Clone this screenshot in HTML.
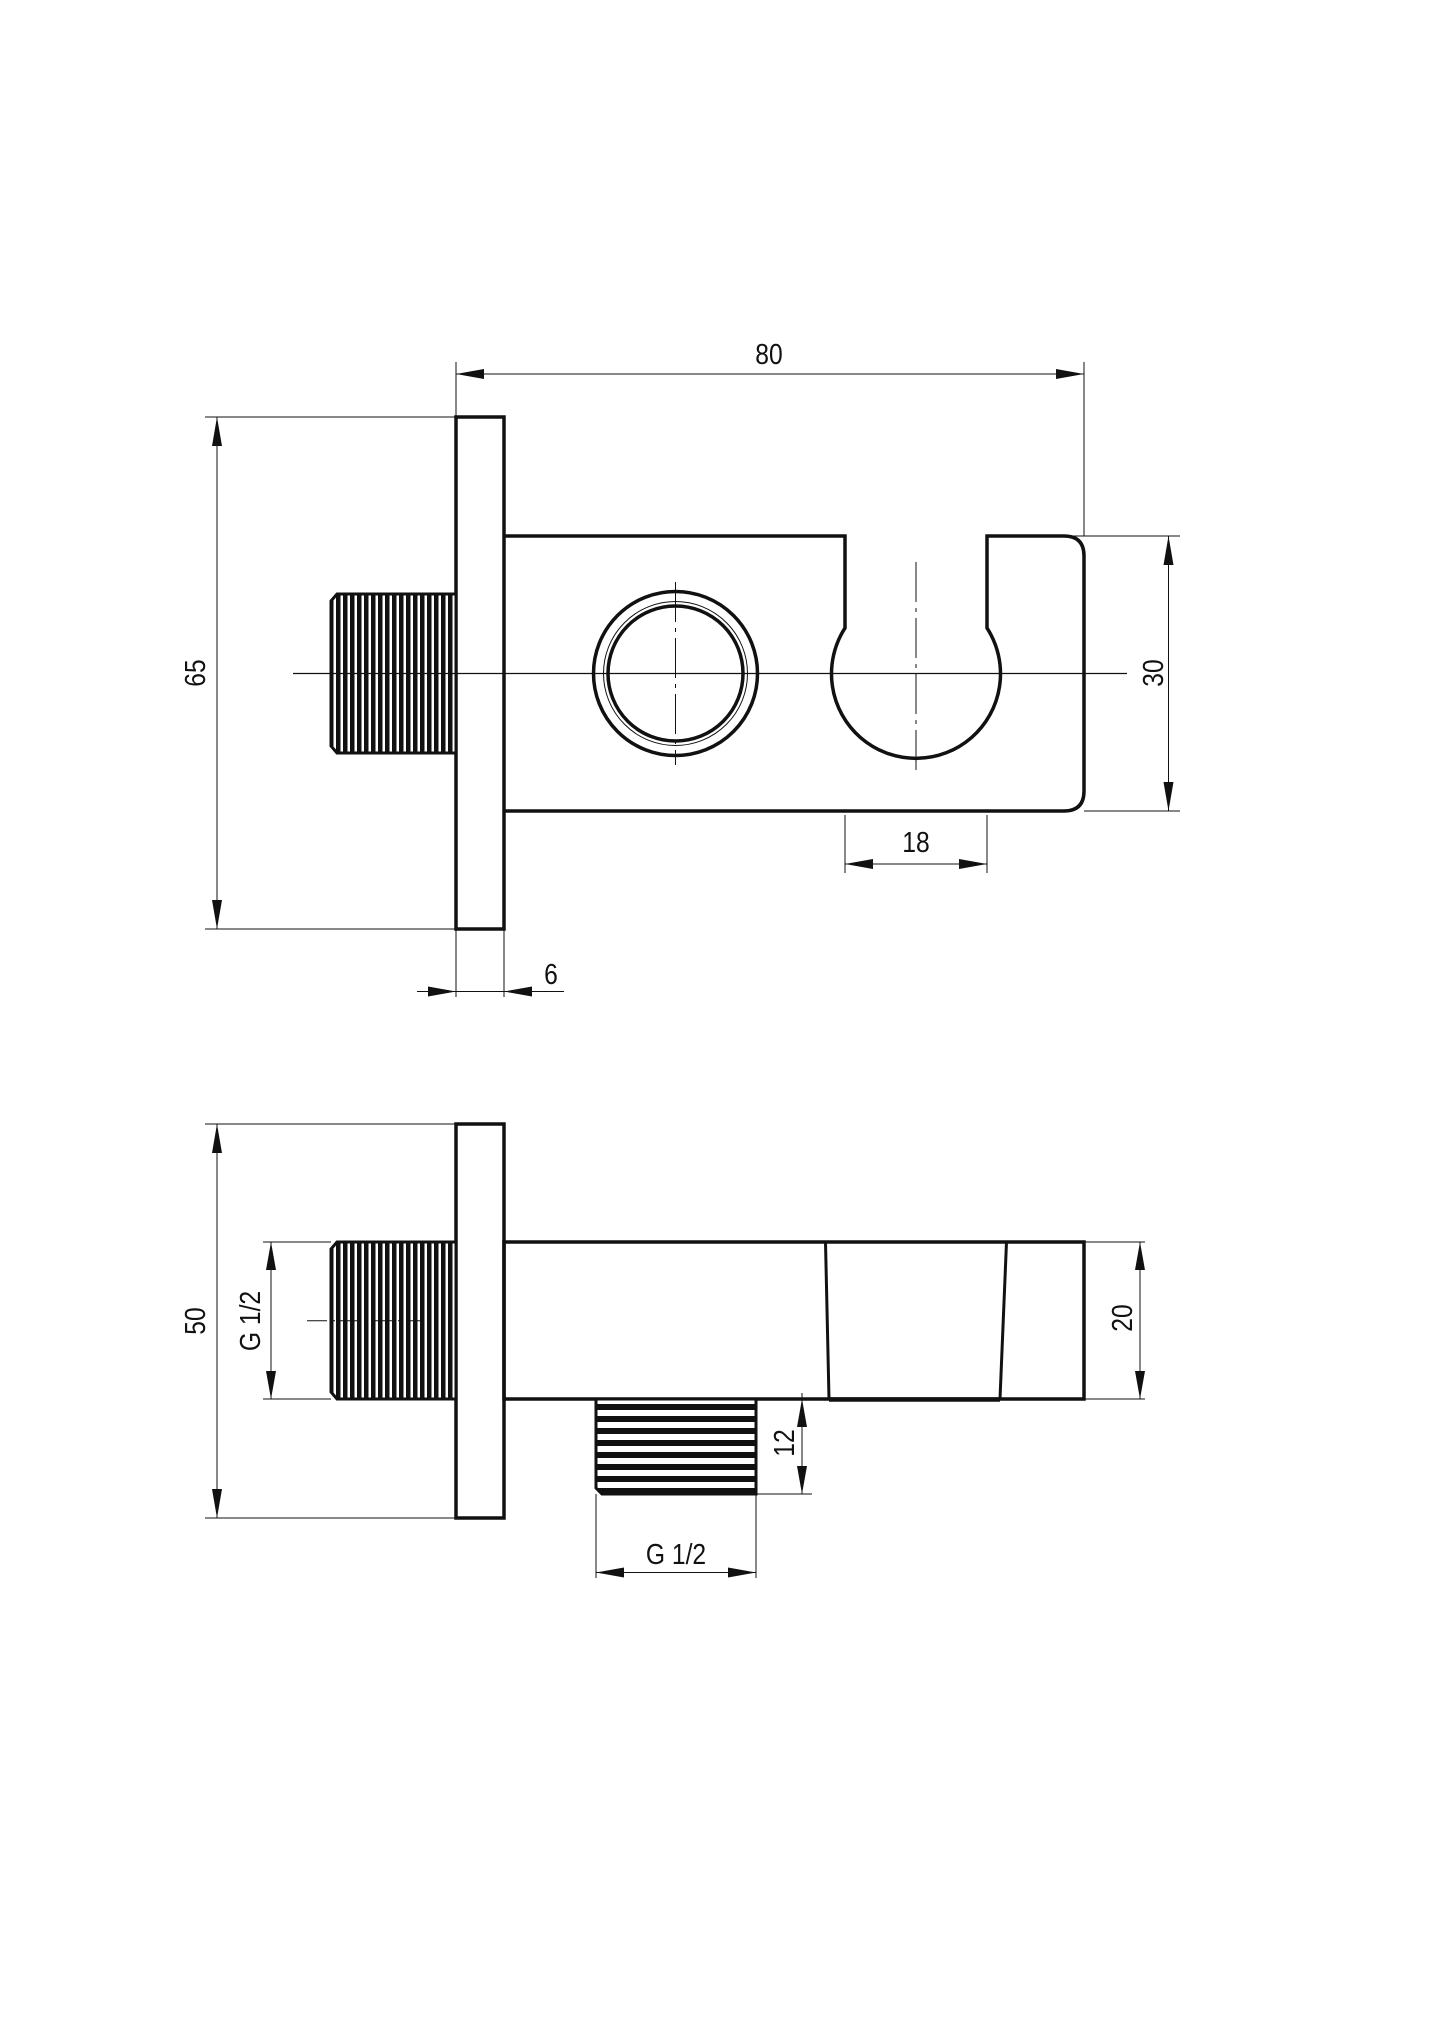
<!DOCTYPE html>
<html><head><meta charset="utf-8"><style>
html,body{margin:0;padding:0;background:#fff;}
svg{display:block;}
text{font-family:"Liberation Sans",sans-serif;font-size:29px;fill:#111;}
</style></head><body>
<svg width="1445" height="2043" viewBox="0 0 1445 2043" xmlns="http://www.w3.org/2000/svg">
<defs>
<pattern id="vt" width="7" height="10" patternUnits="userSpaceOnUse">
<rect width="7" height="10" fill="#fff"/><rect x="0" y="0" width="4.5" height="10" fill="#111"/>
</pattern>
<pattern id="ht" width="10" height="12" patternUnits="userSpaceOnUse">
<rect width="10" height="12" fill="#fff"/><rect x="0" y="0" width="10" height="6" fill="#111"/>
</pattern>
</defs>
<g stroke="#111" fill="none">
<rect x="456" y="417" width="48" height="512" stroke-width="3.5"/>
<path d="M504 536 L845 536 L845 628 A84.5 84.5 0 1 0 987 628 L987 536 L1064 536 Q1084 536 1084 556 L1084 791 Q1084 811 1064 811 L504 811" stroke-width="3.5"/>
<circle cx="675.5" cy="673.5" r="82" stroke-width="3.5"/>
<circle cx="675.5" cy="673.5" r="72" stroke-width="1"/>
<circle cx="675.5" cy="673.5" r="67.5" stroke-width="3.5"/>
<path d="M337 594 L456 594 L456 753 L337 753 L331 746 L331 601 Z" fill="url(#vt)" stroke-width="3"/>
<line x1="293" y1="673.5" x2="1127" y2="673.5" stroke-width="1.2"/>
<line x1="675.5" y1="582" x2="675.5" y2="765" stroke-width="1" stroke-dasharray="40 6 4 6"/>
<line x1="916" y1="562" x2="916" y2="775" stroke-width="1" stroke-dasharray="40 6 4 6"/>
<line x1="456" y1="362" x2="456" y2="417" stroke-width="1"/>
<line x1="1084" y1="362" x2="1084" y2="536" stroke-width="1"/>
<line x1="456" y1="374" x2="1084" y2="374" stroke-width="1"/>
<line x1="205" y1="417" x2="456" y2="417" stroke-width="1"/>
<line x1="205" y1="929" x2="456" y2="929" stroke-width="1"/>
<line x1="217" y1="417" x2="217" y2="929" stroke-width="1"/>
<line x1="1064" y1="536" x2="1180" y2="536" stroke-width="1"/>
<line x1="1084" y1="811" x2="1180" y2="811" stroke-width="1"/>
<line x1="1168.5" y1="536" x2="1168.5" y2="811" stroke-width="1"/>
<line x1="845" y1="815" x2="845" y2="873" stroke-width="1"/>
<line x1="987" y1="815" x2="987" y2="873" stroke-width="1"/>
<line x1="845" y1="864" x2="987" y2="864" stroke-width="1"/>
<line x1="456" y1="929" x2="456" y2="997" stroke-width="1"/>
<line x1="504" y1="929" x2="504" y2="997" stroke-width="1"/>
<line x1="417" y1="991.5" x2="564" y2="991.5" stroke-width="1"/>

<rect x="456" y="1124" width="48" height="394" stroke-width="3.5"/>
<rect x="504" y="1242" width="580" height="157" stroke-width="3.5"/>
<line x1="825.5" y1="1242" x2="829" y2="1399" stroke-width="3"/>
<line x1="1006.5" y1="1242" x2="1000" y2="1399" stroke-width="3"/>
<line x1="829" y1="1399.5" x2="1000" y2="1399.5" stroke-width="4.5"/>
<path d="M337 1242 L456 1242 L456 1399 L337 1399 L331 1392 L331 1249 Z" fill="url(#vt)" stroke-width="3"/>
<path d="M596 1399 L756 1399 L756 1494 L602 1494 L596 1488 Z" fill="url(#ht)" stroke-width="3"/>
<line x1="307" y1="1320.7" x2="420" y2="1320.7" stroke-width="1" stroke-dasharray="20 5 3 5"/>
<line x1="205" y1="1124" x2="456" y2="1124" stroke-width="1"/>
<line x1="205" y1="1518" x2="456" y2="1518" stroke-width="1"/>
<line x1="217" y1="1124" x2="217" y2="1518" stroke-width="1"/>
<line x1="263" y1="1242" x2="331" y2="1242" stroke-width="1"/>
<line x1="263" y1="1399" x2="331" y2="1399" stroke-width="1"/>
<line x1="271" y1="1242" x2="271" y2="1399" stroke-width="1"/>
<line x1="1084" y1="1242" x2="1145" y2="1242" stroke-width="1"/>
<line x1="1084" y1="1399" x2="1145" y2="1399" stroke-width="1"/>
<line x1="1140" y1="1242" x2="1140" y2="1399" stroke-width="1"/>
<line x1="756" y1="1494" x2="812" y2="1494" stroke-width="1"/>
<line x1="802" y1="1393" x2="802" y2="1494" stroke-width="1"/>
<line x1="596" y1="1494" x2="596" y2="1578" stroke-width="1"/>
<line x1="756" y1="1494" x2="756" y2="1578" stroke-width="1"/>
<line x1="596" y1="1572.5" x2="756" y2="1572.5" stroke-width="1"/>
</g>
<g fill="#111">
<polygon points="456,374 484,369 484,379"/>
<polygon points="1084,374 1056,369 1056,379"/>
<polygon points="217,417 212,446 222,446"/>
<polygon points="217,929 212,900 222,900"/>
<polygon points="1168.5,536 1163.5,565 1173.5,565"/>
<polygon points="1168.5,811 1163.5,782 1173.5,782"/>
<polygon points="845,864 873,859 873,869"/>
<polygon points="987,864 959,859 959,869"/>
<polygon points="456,991.5 428,986.5 428,996.5"/>
<polygon points="504,991.5 532,986.5 532,996.5"/>
<polygon points="217,1124 212,1153 222,1153"/>
<polygon points="217,1518 212,1489 222,1489"/>
<polygon points="271,1242 266,1270 276,1270"/>
<polygon points="271,1399 266,1371 276,1371"/>
<polygon points="1140,1242 1135,1270 1145,1270"/>
<polygon points="1140,1399 1135,1371 1145,1371"/>
<polygon points="802,1399 797,1427 807,1427"/>
<polygon points="802,1494 797,1466 807,1466"/>
<polygon points="596,1572.5 624,1567.5 624,1577.5"/>
<polygon points="756,1572.5 728,1567.5 728,1577.5"/>
</g>
<g text-anchor="middle">
<text transform="translate(769,364) scale(0.85,1)">80</text>
<text transform="translate(205,673) rotate(-90) scale(0.85,1)">65</text>
<text transform="translate(1163,673) rotate(-90) scale(0.85,1)">30</text>
<text transform="translate(916,852) scale(0.85,1)">18</text>
<text transform="translate(551,984) scale(0.85,1)">6</text>
<text transform="translate(205,1321) rotate(-90) scale(0.85,1)">50</text>
<text transform="translate(260,1321) rotate(-90) scale(0.85,1)">G 1/2</text>
<text transform="translate(1132,1318) rotate(-90) scale(0.85,1)">20</text>
<text transform="translate(794,1443) rotate(-90) scale(0.85,1)">12</text>
<text transform="translate(676,1564) scale(0.85,1)">G 1/2</text>
</g>
</svg>
</body></html>
